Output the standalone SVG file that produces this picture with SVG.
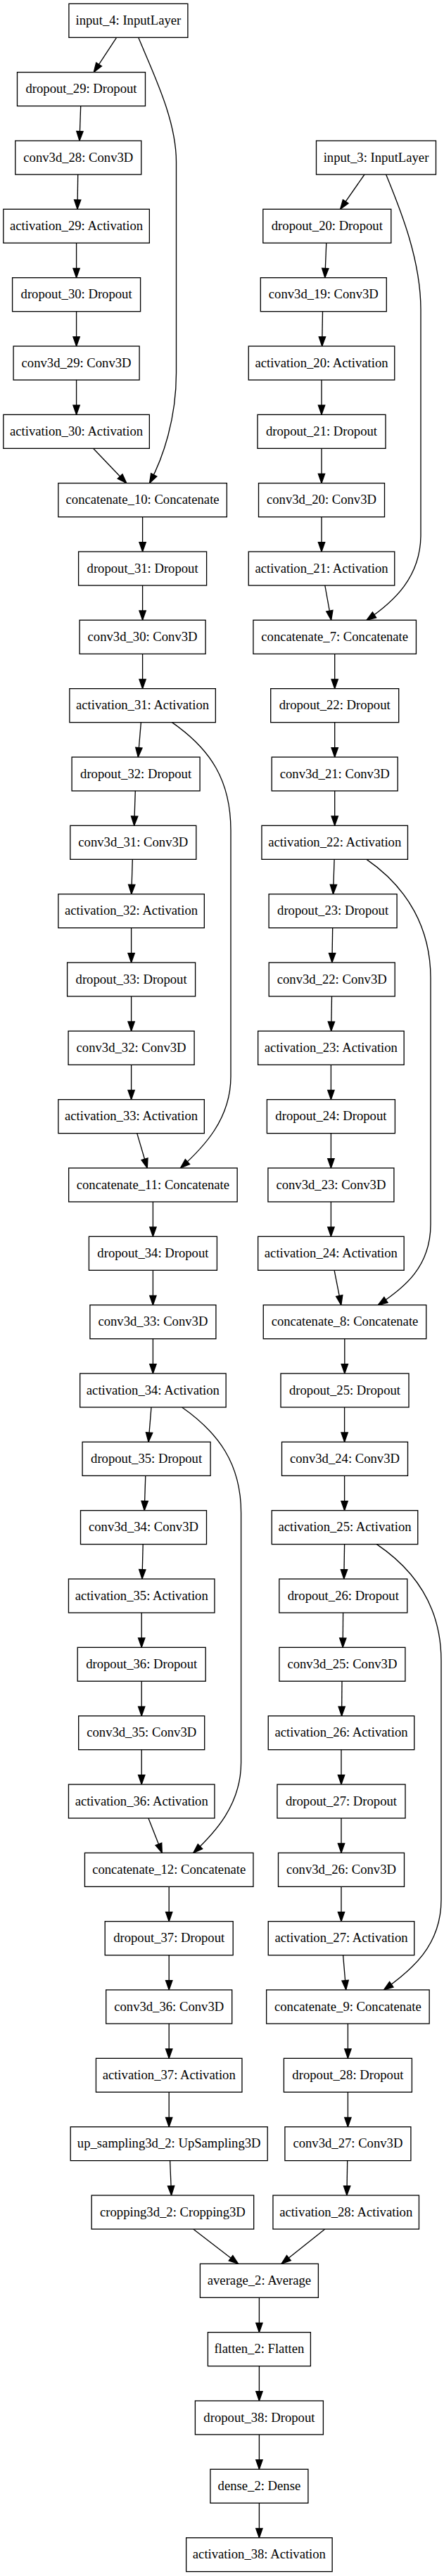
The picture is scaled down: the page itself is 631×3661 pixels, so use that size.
<svg xmlns="http://www.w3.org/2000/svg" width="631" height="3661" viewBox="0 0 631 3661">
<style>
.n rect{fill:#fff;stroke:#000;stroke-width:1.33}
.n text{font-family:"Liberation Serif","Times New Roman",serif;font-size:18.67px;text-anchor:middle;fill:#000}
#edges path{fill:none;stroke:#000;stroke-width:1.33;marker-end:url(#arr)}
</style>
<defs>
<marker id="arr" markerUnits="userSpaceOnUse" markerWidth="16" markerHeight="12" refX="13.33" refY="4.67" orient="auto" overflow="visible">
<path d="M0,0 L13.33,4.67 L0,9.33 Z" fill="#000" stroke="#000" stroke-width="1.33"/>
</marker>
</defs>
<rect x="0" y="0" width="631" height="3661" fill="#fff"/>
<g id="edges">
<path d="M165.6,53.33 L133.3,102.67"/>
<path d="M114.7,150.67 L113,200"/>
<path d="M110.7,248 L110,297.33"/>
<path d="M108.6,345.33 L108.6,394.67"/>
<path d="M108.6,442.67 L108.6,492"/>
<path d="M108.6,540 L108.6,589.33"/>
<path d="M132.5,637.33 L179.8,686.67"/>
<path d="M196.7,53.33 C218,105 250.5,170 250.5,230 L250.5,530 C250.5,595 232,650 212.5,686.67"/>
<path d="M202.6,734.67 L202.6,784"/>
<path d="M202.6,832 L202.6,881.33"/>
<path d="M202.6,929.33 L202.6,978.67"/>
<path d="M200.4,1026.67 L196.3,1076"/>
<path d="M192.3,1124 L190.7,1173.33"/>
<path d="M188.3,1221.33 L186.8,1270.67"/>
<path d="M186.6,1318.67 L186.6,1368"/>
<path d="M186.6,1416 L186.6,1465.33"/>
<path d="M186.6,1513.33 L186.6,1562.67"/>
<path d="M194.7,1610.67 L209.3,1660"/>
<path d="M244.4,1026.67 C300,1065 328,1110 328,1180 L328,1530 C328,1590 290,1630 256.5,1660"/>
<path d="M217.4,1708 L217.4,1757.33"/>
<path d="M217.4,1805.33 L217.4,1854.67"/>
<path d="M217.4,1902.67 L217.4,1952"/>
<path d="M215,2000 L211,2049.33"/>
<path d="M206.8,2097.33 L205.2,2146.67"/>
<path d="M203.2,2194.67 L202,2244"/>
<path d="M201.2,2292 L201.2,2341.33"/>
<path d="M201.2,2389.33 L201.2,2438.67"/>
<path d="M201.2,2486.67 L201.2,2536"/>
<path d="M210.9,2584 L230.3,2633.33"/>
<path d="M258.6,2000 C310,2036 342.6,2080 342.6,2150 L342.6,2505 C342.6,2565 305,2605 274.7,2633.33"/>
<path d="M240.2,2681.33 L240.2,2730.67"/>
<path d="M240.2,2778.67 L240.2,2828"/>
<path d="M240.2,2876 L240.2,2925.33"/>
<path d="M240.2,2973.33 L240.2,3022.67"/>
<path d="M241.6,3070.67 L243.6,3120"/>
<path d="M274.7,3168 L338.6,3217.33"/>
<path d="M461.8,3168 L400,3217.33"/>
<path d="M368.4,3265.33 L368.4,3314.67"/>
<path d="M368.4,3362.67 L368.4,3412"/>
<path d="M368.4,3460 L368.4,3509.33"/>
<path d="M368.4,3557.33 L368.4,3606.67"/>
<path d="M518,248 L483.6,297.33"/>
<path d="M548.6,248 C570,300 598,370 598,440 L598,760 C598,820 560,855 521,881.33"/>
<path d="M463.8,345.33 L461.8,394.67"/>
<path d="M458.5,442.67 L457.7,492"/>
<path d="M457,540 L457,589.33"/>
<path d="M457,637.33 L457,686.67"/>
<path d="M457,734.67 L457,784"/>
<path d="M461.8,832 L470.7,881.33"/>
<path d="M475.7,929.33 L475.7,978.67"/>
<path d="M475.7,1026.67 L475.7,1076"/>
<path d="M475.7,1124 L475.7,1173.33"/>
<path d="M475.1,1221.33 L473.5,1270.67"/>
<path d="M472.7,1318.67 L471.9,1368"/>
<path d="M471.5,1416 L470.7,1465.33"/>
<path d="M470.4,1513.33 L470.4,1562.67"/>
<path d="M470.4,1610.67 L470.4,1660"/>
<path d="M470.4,1708 L470.4,1757.33"/>
<path d="M475.1,1805.33 L484.8,1854.67"/>
<path d="M521,1221.33 C580,1262 612,1320 612,1390 L612,1740 C612,1800 575,1830 537.3,1854.67"/>
<path d="M489.8,1902.67 L489.8,1952"/>
<path d="M489.6,2000 L489.6,2049.33"/>
<path d="M489.6,2097.33 L489.6,2146.67"/>
<path d="M489.6,2194.67 L488.8,2244"/>
<path d="M487.6,2292 L487.2,2341.33"/>
<path d="M486,2389.33 L485.6,2438.67"/>
<path d="M485,2486.67 L485,2536"/>
<path d="M485,2584 L485,2633.33"/>
<path d="M485,2681.33 L485,2730.67"/>
<path d="M487.6,2778.67 L491.7,2828"/>
<path d="M535.3,2194.67 C595,2235 627,2290 627,2360 L627,2700 C627,2765 585,2800 545.4,2828"/>
<path d="M494.4,2876 L494.4,2925.33"/>
<path d="M494.4,2973.33 L494.4,3022.67"/>
<path d="M493.7,3070.67 L492.9,3120"/>
</g>
<g id="input_4" class="n"><rect x="97.9" y="5.33" width="169" height="48"/><text x="182.4" y="34.83">input_4: InputLayer</text></g>
<g id="dropout_29" class="n"><rect x="24.5" y="102.67" width="182" height="48"/><text x="115.5" y="132.17">dropout_29: Dropout</text></g>
<g id="conv3d_28" class="n"><rect x="21.8" y="200" width="179" height="48"/><text x="111.3" y="229.5">conv3d_28: Conv3D</text></g>
<g id="activation_29" class="n"><rect x="4.85" y="297.33" width="207.5" height="48"/><text x="108.6" y="326.83">activation_29: Activation</text></g>
<g id="dropout_30" class="n"><rect x="17.6" y="394.67" width="182" height="48"/><text x="108.6" y="424.17">dropout_30: Dropout</text></g>
<g id="conv3d_29" class="n"><rect x="19.1" y="492" width="179" height="48"/><text x="108.6" y="521.5">conv3d_29: Conv3D</text></g>
<g id="activation_30" class="n"><rect x="4.85" y="589.33" width="207.5" height="48"/><text x="108.6" y="618.83">activation_30: Activation</text></g>
<g id="concatenate_10" class="n"><rect x="82.85" y="686.67" width="239.5" height="48"/><text x="202.6" y="716.17">concatenate_10: Concatenate</text></g>
<g id="dropout_31" class="n"><rect x="111.6" y="784" width="182" height="48"/><text x="202.6" y="813.5">dropout_31: Dropout</text></g>
<g id="conv3d_30" class="n"><rect x="113.1" y="881.33" width="179" height="48"/><text x="202.6" y="910.83">conv3d_30: Conv3D</text></g>
<g id="activation_31" class="n"><rect x="98.85" y="978.67" width="207.5" height="48"/><text x="202.6" y="1008.17">activation_31: Activation</text></g>
<g id="dropout_32" class="n"><rect x="102.1" y="1076" width="182" height="48"/><text x="193.1" y="1105.5">dropout_32: Dropout</text></g>
<g id="conv3d_31" class="n"><rect x="99.8" y="1173.33" width="179" height="48"/><text x="189.3" y="1202.83">conv3d_31: Conv3D</text></g>
<g id="activation_32" class="n"><rect x="82.85" y="1270.67" width="207.5" height="48"/><text x="186.6" y="1300.17">activation_32: Activation</text></g>
<g id="dropout_33" class="n"><rect x="95.6" y="1368" width="182" height="48"/><text x="186.6" y="1397.5">dropout_33: Dropout</text></g>
<g id="conv3d_32" class="n"><rect x="97.1" y="1465.33" width="179" height="48"/><text x="186.6" y="1494.83">conv3d_32: Conv3D</text></g>
<g id="activation_33" class="n"><rect x="82.85" y="1562.67" width="207.5" height="48"/><text x="186.6" y="1592.17">activation_33: Activation</text></g>
<g id="concatenate_11" class="n"><rect x="97.65" y="1660" width="239.5" height="48"/><text x="217.4" y="1689.5">concatenate_11: Concatenate</text></g>
<g id="dropout_34" class="n"><rect x="126.4" y="1757.33" width="182" height="48"/><text x="217.4" y="1786.83">dropout_34: Dropout</text></g>
<g id="conv3d_33" class="n"><rect x="127.9" y="1854.67" width="179" height="48"/><text x="217.4" y="1884.17">conv3d_33: Conv3D</text></g>
<g id="activation_34" class="n"><rect x="113.65" y="1952" width="207.5" height="48"/><text x="217.4" y="1981.5">activation_34: Activation</text></g>
<g id="dropout_35" class="n"><rect x="117.1" y="2049.33" width="182" height="48"/><text x="208.1" y="2078.83">dropout_35: Dropout</text></g>
<g id="conv3d_34" class="n"><rect x="114.5" y="2146.67" width="179" height="48"/><text x="204" y="2176.17">conv3d_34: Conv3D</text></g>
<g id="activation_35" class="n"><rect x="97.45" y="2244" width="207.5" height="48"/><text x="201.2" y="2273.5">activation_35: Activation</text></g>
<g id="dropout_36" class="n"><rect x="110.2" y="2341.33" width="182" height="48"/><text x="201.2" y="2370.83">dropout_36: Dropout</text></g>
<g id="conv3d_35" class="n"><rect x="111.7" y="2438.67" width="179" height="48"/><text x="201.2" y="2468.17">conv3d_35: Conv3D</text></g>
<g id="activation_36" class="n"><rect x="97.45" y="2536" width="207.5" height="48"/><text x="201.2" y="2565.5">activation_36: Activation</text></g>
<g id="concatenate_12" class="n"><rect x="120.45" y="2633.33" width="239.5" height="48"/><text x="240.2" y="2662.83">concatenate_12: Concatenate</text></g>
<g id="dropout_37" class="n"><rect x="149.2" y="2730.67" width="182" height="48"/><text x="240.2" y="2760.17">dropout_37: Dropout</text></g>
<g id="conv3d_36" class="n"><rect x="150.7" y="2828" width="179" height="48"/><text x="240.2" y="2857.5">conv3d_36: Conv3D</text></g>
<g id="activation_37" class="n"><rect x="136.45" y="2925.33" width="207.5" height="48"/><text x="240.2" y="2954.83">activation_37: Activation</text></g>
<g id="up_sampling3d_2" class="n"><rect x="100.2" y="3022.67" width="280" height="48"/><text x="240.2" y="3052.17">up_sampling3d_2: UpSampling3D</text></g>
<g id="cropping3d_2" class="n"><rect x="130.15" y="3120" width="230.5" height="48"/><text x="245.4" y="3149.5">cropping3d_2: Cropping3D</text></g>
<g id="average_2" class="n"><rect x="284.4" y="3217.33" width="168" height="48"/><text x="368.4" y="3246.83">average_2: Average</text></g>
<g id="flatten_2" class="n"><rect x="295.4" y="3314.67" width="146" height="48"/><text x="368.4" y="3344.17">flatten_2: Flatten</text></g>
<g id="dropout_38" class="n"><rect x="277.4" y="3412" width="182" height="48"/><text x="368.4" y="3441.5">dropout_38: Dropout</text></g>
<g id="dense_2" class="n"><rect x="298.9" y="3509.33" width="139" height="48"/><text x="368.4" y="3538.83">dense_2: Dense</text></g>
<g id="activation_38" class="n"><rect x="264.65" y="3606.67" width="207.5" height="48"/><text x="368.4" y="3636.17">activation_38: Activation</text></g>
<g id="input_3" class="n"><rect x="449.5" y="200" width="170" height="48"/><text x="534.5" y="229.5">input_3: InputLayer</text></g>
<g id="dropout_20" class="n"><rect x="373.8" y="297.33" width="182" height="48"/><text x="464.8" y="326.83">dropout_20: Dropout</text></g>
<g id="conv3d_19" class="n"><rect x="370.3" y="394.67" width="179" height="48"/><text x="459.8" y="424.17">conv3d_19: Conv3D</text></g>
<g id="activation_20" class="n"><rect x="353.25" y="492" width="207.5" height="48"/><text x="457" y="521.5">activation_20: Activation</text></g>
<g id="dropout_21" class="n"><rect x="366" y="589.33" width="182" height="48"/><text x="457" y="618.83">dropout_21: Dropout</text></g>
<g id="conv3d_20" class="n"><rect x="367.5" y="686.67" width="179" height="48"/><text x="457" y="716.17">conv3d_20: Conv3D</text></g>
<g id="activation_21" class="n"><rect x="353.25" y="784" width="207.5" height="48"/><text x="457" y="813.5">activation_21: Activation</text></g>
<g id="concatenate_7" class="n"><rect x="359.95" y="881.33" width="231.5" height="48"/><text x="475.7" y="910.83">concatenate_7: Concatenate</text></g>
<g id="dropout_22" class="n"><rect x="384.7" y="978.67" width="182" height="48"/><text x="475.7" y="1008.17">dropout_22: Dropout</text></g>
<g id="conv3d_21" class="n"><rect x="386.2" y="1076" width="179" height="48"/><text x="475.7" y="1105.5">conv3d_21: Conv3D</text></g>
<g id="activation_22" class="n"><rect x="371.95" y="1173.33" width="207.5" height="48"/><text x="475.7" y="1202.83">activation_22: Activation</text></g>
<g id="dropout_23" class="n"><rect x="382.1" y="1270.67" width="182" height="48"/><text x="473.1" y="1300.17">dropout_23: Dropout</text></g>
<g id="conv3d_22" class="n"><rect x="382.2" y="1368" width="179" height="48"/><text x="471.7" y="1397.5">conv3d_22: Conv3D</text></g>
<g id="activation_23" class="n"><rect x="366.65" y="1465.33" width="207.5" height="48"/><text x="470.4" y="1494.83">activation_23: Activation</text></g>
<g id="dropout_24" class="n"><rect x="379.4" y="1562.67" width="182" height="48"/><text x="470.4" y="1592.17">dropout_24: Dropout</text></g>
<g id="conv3d_23" class="n"><rect x="380.9" y="1660" width="179" height="48"/><text x="470.4" y="1689.5">conv3d_23: Conv3D</text></g>
<g id="activation_24" class="n"><rect x="366.65" y="1757.33" width="207.5" height="48"/><text x="470.4" y="1786.83">activation_24: Activation</text></g>
<g id="concatenate_8" class="n"><rect x="374.25" y="1854.67" width="231.5" height="48"/><text x="490" y="1884.17">concatenate_8: Concatenate</text></g>
<g id="dropout_25" class="n"><rect x="399" y="1952" width="182" height="48"/><text x="490" y="1981.5">dropout_25: Dropout</text></g>
<g id="conv3d_24" class="n"><rect x="400.5" y="2049.33" width="179" height="48"/><text x="490" y="2078.83">conv3d_24: Conv3D</text></g>
<g id="activation_25" class="n"><rect x="386.25" y="2146.67" width="207.5" height="48"/><text x="490" y="2176.17">activation_25: Activation</text></g>
<g id="dropout_26" class="n"><rect x="396.8" y="2244" width="182" height="48"/><text x="487.8" y="2273.5">dropout_26: Dropout</text></g>
<g id="conv3d_25" class="n"><rect x="396.9" y="2341.33" width="179" height="48"/><text x="486.4" y="2370.83">conv3d_25: Conv3D</text></g>
<g id="activation_26" class="n"><rect x="381.25" y="2438.67" width="207.5" height="48"/><text x="485" y="2468.17">activation_26: Activation</text></g>
<g id="dropout_27" class="n"><rect x="394" y="2536" width="182" height="48"/><text x="485" y="2565.5">dropout_27: Dropout</text></g>
<g id="conv3d_26" class="n"><rect x="395.5" y="2633.33" width="179" height="48"/><text x="485" y="2662.83">conv3d_26: Conv3D</text></g>
<g id="activation_27" class="n"><rect x="381.25" y="2730.67" width="207.5" height="48"/><text x="485" y="2760.17">activation_27: Activation</text></g>
<g id="concatenate_9" class="n"><rect x="378.65" y="2828" width="231.5" height="48"/><text x="494.4" y="2857.5">concatenate_9: Concatenate</text></g>
<g id="dropout_28" class="n"><rect x="403.4" y="2925.33" width="182" height="48"/><text x="494.4" y="2954.83">dropout_28: Dropout</text></g>
<g id="conv3d_27" class="n"><rect x="404.9" y="3022.67" width="179" height="48"/><text x="494.4" y="3052.17">conv3d_27: Conv3D</text></g>
<g id="activation_28" class="n"><rect x="387.95" y="3120" width="207.5" height="48"/><text x="491.7" y="3149.5">activation_28: Activation</text></g>
</svg>
